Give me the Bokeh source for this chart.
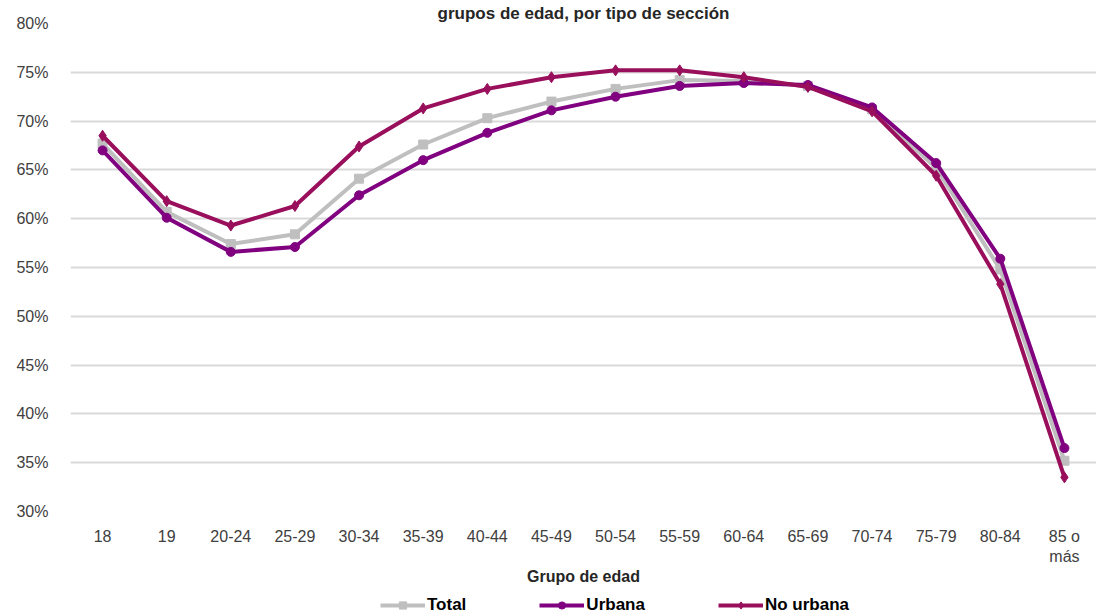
from bokeh.plotting import figure
from bokeh.layouts import column
from bokeh.models import (FactorRange, Range1d, FixedTicker, PrintfTickFormatter, Legend,
                          LegendItem, ColumnDataSource)
from bokeh.embed import file_html
from bokeh.resources import INLINE

categories = ["18", "19", "20-24", "25-29", "30-34", "35-39", "40-44", "45-49", "50-54",
              "55-59", "60-64", "65-69", "70-74", "75-79", "80-84", "85 o\nmás"]
total = [67.7, 60.7, 57.4, 58.4, 64.1, 67.6, 70.3, 72.0, 73.3, 74.2, 74.1, 73.6, 71.2, 65.2, 54.8, 35.2]
urbana = [67.0, 60.1, 56.6, 57.1, 62.4, 66.0, 68.8, 71.1, 72.5, 73.6, 73.9, 73.7, 71.4, 65.7, 55.9, 36.5]
no_urbana = [68.5, 61.8, 59.3, 61.3, 67.4, 71.3, 73.3, 74.5, 75.2, 75.2, 74.5, 73.5, 71.0, 64.4, 53.3, 33.5]
series_names = ["Total", "Urbana", "No urbana"]
y_ticks = [30, 35, 40, 45, 50, 55, 60, 65, 70, 75, 80]

FONT = "Liberation Sans"
c_total = "#BFBFBF"
c_urb = "#800080"
c_nourb = "#990F5C"

src = ColumnDataSource(dict(x=categories, total=total, urbana=urbana, no_urbana=no_urbana))

p = figure(x_range=FactorRange(factors=categories), y_range=Range1d(30, 80),
           frame_width=1026, frame_height=488, output_backend="svg", toolbar_location=None,
           title="grupos de edad, por tipo de sección")
p.min_border_left = 70
p.min_border_right = 0
p.min_border_top = 0
p.min_border_bottom = 0
p.outline_line_color = None

p.title.text_font = FONT
p.title.text_font_size = "17px"
p.title.text_font_style = "bold"
p.title.text_color = "#262626"
p.title.align = "center"
p.title.standoff = 2

p.xgrid.grid_line_color = None
p.ygrid.grid_line_color = "#D9D9D9"
p.ygrid.grid_line_width = 2

p.yaxis.ticker = FixedTicker(ticks=y_ticks)
p.yaxis.formatter = PrintfTickFormatter(format="%d%%")
for ax in (p.xaxis[0], p.yaxis[0]):
    ax.axis_line_color = None
    ax.major_tick_line_color = None
    ax.minor_tick_line_color = None
    ax.major_label_text_font = FONT
    ax.major_label_text_font_size = "16px"
    ax.major_label_text_color = "#404040"
p.yaxis.major_label_standoff = 16
p.xaxis.major_label_standoff = 10
p.xaxis.axis_label = "Grupo de edad"
p.xaxis.axis_label_text_font = FONT
p.xaxis.axis_label_text_font_size = "16px"
p.xaxis.axis_label_text_font_style = "bold"
p.xaxis.axis_label_text_color = "#262626"
p.xaxis.axis_label_standoff = 0

p.line("x", "total", source=src, line_color=c_total, line_width=4)
p.scatter("x", "total", source=src, marker="square", size=9, color=c_total)
p.line("x", "urbana", source=src, line_color=c_urb, line_width=4)
p.scatter("x", "urbana", source=src, marker="circle", size=9, color=c_urb)
p.line("x", "no_urbana", source=src, line_color=c_nourb, line_width=4)
p.scatter("x", "no_urbana", source=src, marker="diamond", size=11, color=c_nourb)

# legend strip below the chart (keys only; their glyph data lie outside the visible range)
lf = figure(width=1096, height=34, x_range=Range1d(0, 1), y_range=Range1d(0, 1),
            output_backend="svg", toolbar_location=None, min_border=0)
lf.axis.visible = False
lf.grid.visible = False
lf.outline_line_color = None
offscreen = ColumnDataSource(dict(x=[-10, -9], y=[-10, -9]))
items = []
for name, col, mk, sz in zip(series_names, [c_total, c_urb, c_nourb],
                             ["square", "circle", "diamond"], [9, 9, 11]):
    lr = lf.line("x", "y", source=offscreen, line_color=col, line_width=4)
    sr = lf.scatter("x", "y", source=offscreen, marker=mk, size=sz, color=col)
    items.append(LegendItem(label=name, renderers=[lr, sr]))

legend = Legend(items=items, orientation="horizontal", location=(310, 6))
legend.label_text_font = FONT
legend.label_text_font_size = "17px"
legend.label_text_font_style = "bold"
legend.label_text_color = "#000000"
legend.glyph_width = 45
legend.glyph_height = 18
legend.label_height = 18
legend.spacing = 73
legend.label_standoff = 2
legend.border_line_color = None
legend.background_fill_alpha = 0
legend.padding = 0
legend.margin = 0
lf.add_layout(legend, "center")

open("out.html", "w").write(file_html(column(p, lf, spacing=0), INLINE))
